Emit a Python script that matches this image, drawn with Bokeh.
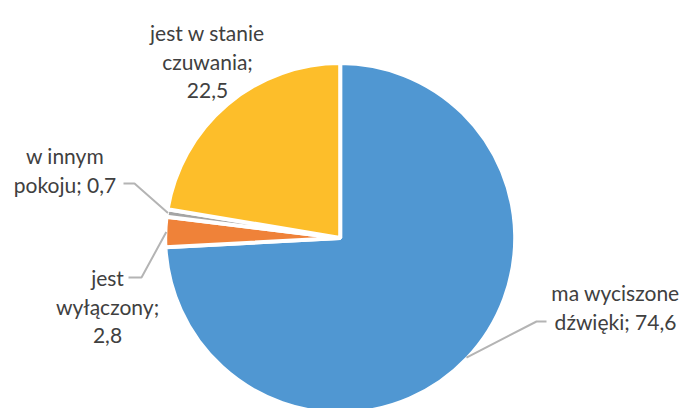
import math
from bokeh.plotting import figure
from bokeh.models import Range1d, ColumnDataSource
from bokeh.core.properties import value
from bokeh.embed import file_html
from bokeh.resources import INLINE

# ---- data ----
categories = ["ma wyciszone dźwięki", "jest wyłączony", "w innym pokoju", "jest w stanie czuwania"]
values = [74.6, 2.8, 0.7, 22.5]
colors = ["#5097D2", "#EF8239", "#A5A5A5", "#FDBE2A"]
# words per label line (layout of the data labels)
wrap = [[2, 2], [1, 1, 1], [2, 2], [3, 1, 1]]

W, H = 684, 408
cx, cy_top = 339.7, 237.5
R = 175
FONT = "Lato"

def Y(py):
    return H - py

p = figure(width=W, height=H, x_range=Range1d(0, W), y_range=Range1d(0, H),
           output_backend="svg", toolbar_location=None,
           x_axis_type=None, y_axis_type=None, min_border=0)
p.grid.visible = False
p.outline_line_color = None
p.background_fill_color = "white"

total = sum(values)
starts, ends, mids = [], [], []
cum = 0.0
for v in values:
    a0 = cum / total * 360.0
    cum += v
    a1 = cum / total * 360.0
    # clockwise from 12 o'clock -> math angles
    starts.append(math.radians(90 - a1))
    ends.append(math.radians(90 - a0))
    mids.append((a0 + a1) / 2)

src = ColumnDataSource(dict(x=[cx] * len(values), y=[Y(cy_top)] * len(values),
                            start=starts, end=ends, color=colors))
p.wedge(x="x", y="y", radius=R, start_angle="start", end_angle="end",
        fill_color="color", line_color="white", line_width=4, source=src)

# labels
def fmt(v):
    return ("%.1f" % v).replace(".", ",")

label_lines = []
for cat, v, w in zip(categories, values, wrap):
    words = (cat + "; " + fmt(v)).split(" ")
    lines, i = [], 0
    for n in w:
        lines.append(" ".join(words[i:i + n]))
        i += n
    label_lines.append(lines)

label_pos = [(615, 292), (107, 277), (64.5, 154.5), (207, 32)]
LH = 29
tx, ty, tt = [], [], []
for lines, (lx, ly) in zip(label_lines, label_pos):
    for k, ln in enumerate(lines):
        tx.append(lx)
        ty.append(Y(ly + k * LH))
        tt.append(ln)
p.text(x=tx, y=ty, text=tt, text_align="center", text_baseline="alphabetic",
       text_font=value(FONT), text_font_size="21px", text_color="#404040")

# leader lines (from slice edge at mid-angle to the label)
elbows = {0: [(536, 321), (546, 321)], 1: [(141, 277), (128, 277)], 2: [(134, 183), (123, 183)]}
xs, ys = [], []
for i, pts in elbows.items():
    a = math.radians(mids[i])
    ex = cx + (R - 1) * math.sin(a)
    ey = cy_top - (R - 1) * math.cos(a)
    xs.append([ex] + [q[0] for q in pts])
    ys.append([Y(ey)] + [Y(q[1]) for q in pts])
p.multi_line(xs=xs, ys=ys, line_color="#B4B4B4", line_width=2)

open("out.html", "w").write(file_html(p, INLINE))
